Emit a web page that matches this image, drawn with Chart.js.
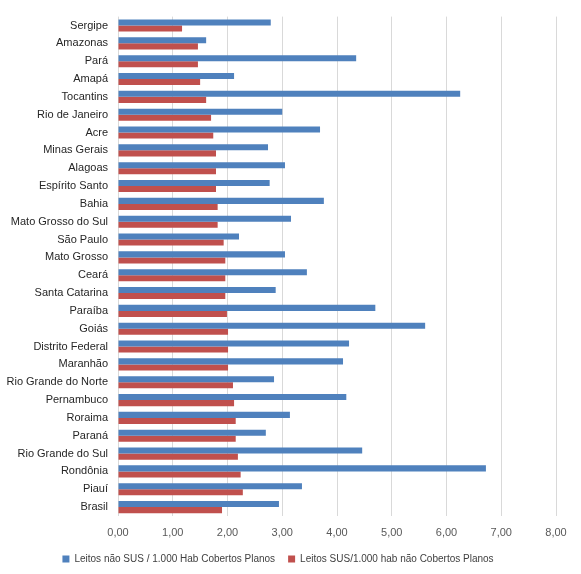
<!DOCTYPE html>
<html><head><meta charset="utf-8">
<script src="https://cdn.jsdelivr.net/npm/chart.js@4/dist/chart.umd.min.js"></script>
<style>html,body{margin:0;padding:0;background:#fff;}#wrap{width:581px;height:574px;position:relative;}</style>
</head><body><div id="wrap"><canvas id="c" width="581" height="574"></canvas></div>
<script>
const categories = ["Sergipe","Amazonas","Pará","Amapá","Tocantins","Rio de Janeiro","Acre","Minas Gerais","Alagoas","Espírito Santo","Bahia","Mato Grosso do Sul","São Paulo","Mato Grosso","Ceará","Santa Catarina","Paraíba","Goiás","Distrito Federal","Maranhão","Rio Grande do Norte","Pernambuco","Roraima","Paraná","Rio Grande do Sul","Rondônia","Piauí","Brasil"];
const leitosNaoSUS = [2.79,1.61,4.35,2.12,6.25,3.00,3.69,2.74,3.05,2.77,3.76,3.16,2.21,3.05,3.45,2.88,4.70,5.61,4.22,4.11,2.85,4.17,3.14,2.70,4.46,6.72,3.36,2.94];
const leitosSUS = [1.17,1.46,1.46,1.50,1.61,1.70,1.74,1.79,1.79,1.79,1.82,1.82,1.93,1.96,1.96,1.96,1.99,2.01,2.01,2.01,2.10,2.12,2.15,2.15,2.19,2.24,2.28,1.90];
const seriesNames = ["Leitos não SUS / 1.000 Hab Cobertos Planos","Leitos SUS/1.000 hab não Cobertos Planos"];
const tickLabels = ["0,00","1,00","2,00","3,00","4,00","5,00","6,00","7,00","8,00"];

const FONT = "'Liberation Sans', Arial, sans-serif";
new Chart(document.getElementById('c'), {
  type: 'bar',
  data: {
    labels: categories,
    datasets: [
      {label: seriesNames[0], data: leitosNaoSUS, backgroundColor: '#4F81BD'},
      {label: seriesNames[1], data: leitosSUS, backgroundColor: '#C0504D'}
    ]
  },
  options: {
    indexAxis: 'y',
    responsive: false,
    animation: false,
    layout: {padding: {top: 12, right: 25, left: 0, bottom: 0}},
    datasets: {bar: {categoryPercentage: 0.68, barPercentage: 1.0}},
    scales: {
      x: {
        min: 0, max: 8,
        ticks: {stepSize: 1, color: '#595959', font: {family: FONT, size: 11}, padding: 10,
          callback: (v, i) => tickLabels[i]},
        grid: {color: '#D9D9D9', lineWidth: 1, drawTicks: false},
        border: {display: false},
        afterFit: (s) => { s.height = 25; }
      },
      y: {
        ticks: {color: '#262626', font: {family: FONT, size: 11}, padding: 10, autoSkip: false},
        grid: {display: false, drawTicks: false},
        border: {display: false},
        afterFit: (s) => { s.width = 118; }
      }
    },
    plugins: {
      legend: {
        position: 'bottom',
        labels: {boxWidth: 7, boxHeight: 7, color: '#404040', font: {family: FONT, size: 10}, padding: 13}
      },
      tooltip: {enabled: false}
    }
  }
});
</script></body></html>
